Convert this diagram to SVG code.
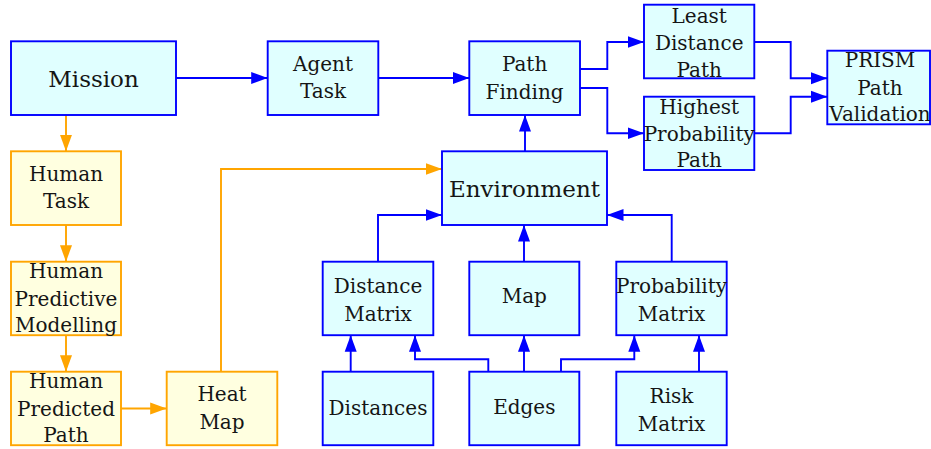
<svg xmlns="http://www.w3.org/2000/svg" width="931" height="449" viewBox="0 0 931 449">
<style>
.b{fill:#E0FFFF;stroke:#0000FF;stroke-width:1.9}
.o{fill:#FFFFE0;stroke:#FFA500;stroke-width:1.9}
.cb{fill:none;stroke:#0000FF;stroke-width:1.9}
.co{fill:none;stroke:#FFA500;stroke-width:1.9}
</style>
<defs>
<marker id="ab" markerUnits="userSpaceOnUse" markerWidth="17" markerHeight="13" refX="16.5" refY="6.5" orient="auto"><path d="M0,0.5 L16.5,6.5 L0,12.5 z" fill="#0000FF"/></marker>
<marker id="ao" markerUnits="userSpaceOnUse" markerWidth="17" markerHeight="13" refX="16.5" refY="6.5" orient="auto"><path d="M0,0.5 L16.5,6.5 L0,12.5 z" fill="#FFA500"/></marker>
</defs>
<rect width="931" height="449" fill="#fff"/>
<g id="connectors">
<path class="co" marker-end="url(#ao)" d="M66,115 V151.3"/>
<path class="co" marker-end="url(#ao)" d="M66,225 V261.7"/>
<path class="co" marker-end="url(#ao)" d="M66,335.2 V371.7"/>
<path class="co" marker-end="url(#ao)" d="M121,408.5 H166.7"/>
<path class="co" marker-end="url(#ao)" d="M221,371.7 V169 H442"/>
<path class="cb" marker-end="url(#ab)" d="M176,78 H267.7"/>
<path class="cb" marker-end="url(#ab)" d="M378.3,78 H469.3"/>
<path class="cb" marker-end="url(#ab)" d="M580,69 H607.3 V42 H644"/>
<path class="cb" marker-end="url(#ab)" d="M580,88 H607.3 V133.3 H644"/>
<path class="cb" marker-end="url(#ab)" d="M754.3,42 H790.7 V78.3 H827.3"/>
<path class="cb" marker-end="url(#ab)" d="M754.3,133.3 H790.7 V96.7 H827.3"/>
<path class="cb" marker-end="url(#ab)" d="M525,151.3 V115"/>
<path class="cb" marker-end="url(#ab)" d="M378,261.7 V215 H442"/>
<path class="cb" marker-end="url(#ab)" d="M524,261.7 V225"/>
<path class="cb" marker-end="url(#ab)" d="M671.7,261.7 V215 H607"/>
<path class="cb" marker-end="url(#ab)" d="M350.7,371.7 V335.2"/>
<path class="cb" marker-end="url(#ab)" d="M488.3,371.7 V359.3 H415 V335.2"/>
<path class="cb" marker-end="url(#ab)" d="M524,371.7 V335.2"/>
<path class="cb" marker-end="url(#ab)" d="M561,371.7 V359.3 H634.3 V335.2"/>
<path class="cb" marker-end="url(#ab)" d="M699,371.7 V335.2"/>
</g>
<g font-family="DejaVu Serif, Liberation Serif, serif" font-size="20" fill="#151515" text-anchor="middle">
<g id="mission"><rect class="b" x="11" y="41.3" width="165" height="73.7"/><text font-size="23" x="93.5" y="86.5">Mission</text></g>
<g id="agent-task"><rect class="b" x="267.7" y="41.3" width="110.6" height="73.7"/><text x="323" y="71.2">Agent</text><text x="323" y="98.4">Task</text></g>
<g id="path-finding"><rect class="b" x="469.3" y="41.3" width="110.7" height="73.7"/><text x="524.6" y="71.4">Path</text><text x="524.6" y="98.7">Finding</text></g>
<g id="least-distance-path"><rect class="b" x="644" y="4.7" width="110.3" height="73.6"/><text x="699.2" y="22.5">Least</text><text x="699.2" y="49.7">Distance</text><text x="699.2" y="76.7">Path</text></g>
<g id="highest-probability-path"><rect class="b" x="644" y="96.7" width="110.3" height="73.3"/><text x="699.2" y="114">Highest</text><text x="699.2" y="140.7">Probability</text><text x="699.2" y="167.2">Path</text></g>
<g id="prism"><rect class="b" x="827.3" y="50.7" width="102.7" height="73.6"/><text x="880" y="66.8">PRISM</text><text x="880" y="94.7">Path</text><text x="880" y="121.4">Validation</text></g>
<g id="environment"><rect class="b" x="442" y="151.3" width="165" height="73.7"/><text font-size="23" x="524.5" y="197">Environment</text></g>
<g id="human-task"><rect class="o" x="11" y="151.3" width="110" height="73.7"/><text x="66" y="181.4">Human</text><text x="66" y="208.2">Task</text></g>
<g id="human-predictive-modelling"><rect class="o" x="11" y="261.7" width="110" height="73.5"/><text x="66" y="278">Human</text><text x="66" y="305.7">Predictive</text><text x="66" y="332.4">Modelling</text></g>
<g id="human-predicted-path"><rect class="o" x="11" y="371.7" width="110" height="73.5"/><text x="66" y="388">Human</text><text x="66" y="415.7">Predicted</text><text x="66" y="442.2">Path</text></g>
<g id="heat-map"><rect class="o" x="166.7" y="371.7" width="110.6" height="73.5"/><text x="222" y="401.4">Heat</text><text x="222" y="428.7">Map</text></g>
<g id="distance-matrix"><rect class="b" x="322.7" y="261.7" width="110.6" height="73.5"/><text x="378" y="293">Distance</text><text x="378" y="320.7">Matrix</text></g>
<g id="map"><rect class="b" x="469.3" y="261.7" width="110" height="73.5"/><text x="524.3" y="303.2">Map</text></g>
<g id="probability-matrix"><rect class="b" x="616.3" y="261.7" width="110.4" height="73.5"/><text x="671.5" y="293">Probability</text><text x="671.5" y="320.7">Matrix</text></g>
<g id="distances"><rect class="b" x="322.7" y="371.7" width="110.6" height="73.5"/><text x="378" y="415.4">Distances</text></g>
<g id="edges"><rect class="b" x="469.3" y="371.7" width="110" height="73.5"/><text x="524.3" y="413.7">Edges</text></g>
<g id="risk-matrix"><rect class="b" x="616.3" y="371.7" width="110.4" height="73.5"/><text x="671.5" y="403">Risk</text><text x="671.5" y="430.7">Matrix</text></g>
</g>
</svg>
